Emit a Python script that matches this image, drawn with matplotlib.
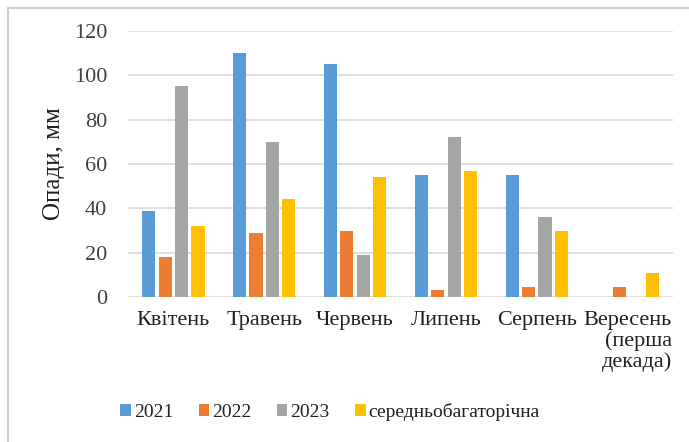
import matplotlib
matplotlib.use("Agg")
import matplotlib.pyplot as plt
from matplotlib.lines import Line2D
import numpy as np

plt.rcParams['font.family'] = ['Liberation Serif', 'DejaVu Serif']
SERIF = ['Liberation Serif', 'DejaVu Serif']

categories = ["Квітень", "Травень", "Червень", "Липень", "Серпень", "Вересень\n(перша\nдекада)"]
series_names = ["2021", "2022", "2023", "середньобагаторічна"]
v2021 = [39, 110, 105, 55, 55, 0]
v2022 = [18, 29, 30, 3, 4.5, 4.5]
v2023 = [95, 70, 19, 72, 36, 0]
vavg = [32, 44, 54, 57, 30, 11]
yticks = [0, 20, 40, 60, 80, 100, 120]
colors = ["#5B9BD5", "#ED7D31", "#A5A5A5", "#FFC000"]

fig = plt.figure(figsize=(6.89, 4.42), dpi=100)
ax = fig.add_axes([128/689, 1-297/442, 545/689, 266/442])

x = np.arange(len(categories))
step = 0.18
width = 0.145
all_series = [v2021, v2022, v2023, vavg]
for i, (vals, name, c) in enumerate(zip(all_series, series_names, colors)):
    ax.bar(x + (i - 1.5) * step, vals, width=width, color=c, label=name, zorder=3)

ax.set_xlim(-0.5, len(categories) - 0.5)
ax.set_ylim(0, 120)
ax.set_yticks(yticks)
ax.set_yticklabels([str(t) for t in yticks], fontsize=16, color="#404040", fontfamily=SERIF)
ax.set_xticks(x)
ax.set_xticklabels(categories, fontsize=16, color="#202020", ha='center',
                   multialignment='right', linespacing=1.1, fontfamily=SERIF)
ax.tick_params(axis='y', length=0, pad=15)
ax.tick_params(axis='x', length=0, pad=10)
ax.grid(axis='y', color="#D9D9D9", linewidth=1.2, zorder=0)
for s in ax.spines.values():
    s.set_visible(False)

ax.set_ylabel("Опади, мм", fontsize=18, color="#202020", labelpad=6, fontfamily=SERIF)

leg = fig.legend(loc='center', bbox_to_anchor=(330/689, 1-412/442), ncol=4, frameon=False,
                 prop={'family': SERIF, 'size': 14}, handlelength=0.55, handleheight=0.55,
                 handletextpad=0.15, columnspacing=1.3, labelcolor="#202020")

# figure border (top and left)
fig.add_artist(Line2D([8/689, 8/689], [0, 1-8/442], transform=fig.transFigure, color="#D0D0D0", lw=1.5))
fig.add_artist(Line2D([8/689, 1], [1-8/442, 1-8/442], transform=fig.transFigure, color="#D0D0D0", lw=1.5))

fig.savefig("out.png", dpi=100)
